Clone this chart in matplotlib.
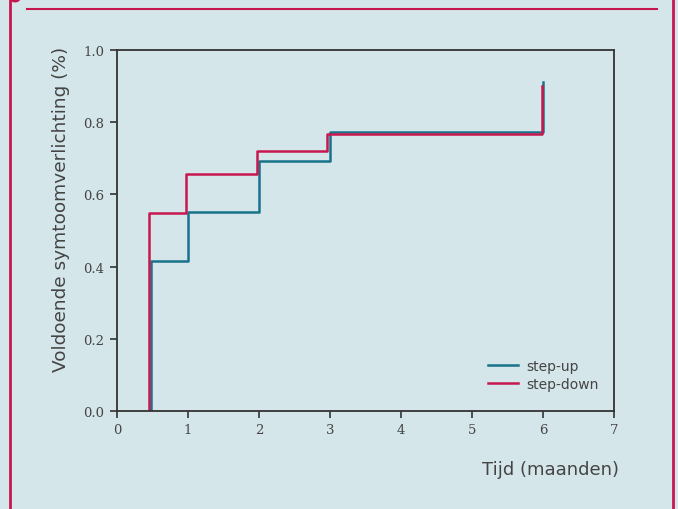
import numpy as np
import matplotlib
matplotlib.use('Agg')
import matplotlib.pyplot as plt
from matplotlib.lines import Line2D
from matplotlib.patches import Circle

# step-up / step-down curves (time in months, fraction with relief)
up_t = [0.475, 0.475, 0.995, 1.995, 3.0, 5.995]
up_y = [0.0, 0.416, 0.552, 0.6925, 0.773, 0.91]
down_t = [0.45, 0.45, 0.967, 1.967, 2.96, 5.98]
down_y = [0.0, 0.548, 0.656, 0.72, 0.766, 0.899]

x_ticks = [0, 1, 2, 3, 4, 5, 6, 7]
y_ticks = [0.0, 0.2, 0.4, 0.6, 0.8, 1.0]

bg = '#d5e6eb'
teal = '#17738a'
red = '#c8164f'
dark = '#333333'
txt = '#444444'

fig = plt.figure(figsize=(6.78, 5.10), dpi=100)
fig.patch.set_facecolor(bg)

# frame lines round the figure
W, H = 678, 510
fig.add_artist(Line2D([10 / W, 10 / W], [0, 1], color=red, lw=2, transform=fig.transFigure))
fig.add_artist(Line2D([673 / W, 673 / W], [0, 1], color=red, lw=2, transform=fig.transFigure))
fig.add_artist(Line2D([27 / W, 657 / W], [1 - 10 / H, 1 - 10 / H], color=red, lw=1.5,
                      transform=fig.transFigure))
fig.add_artist(Circle((15 / W, 1 + 1 / H), 5 / W, color=red, transform=fig.transFigure,
                      clip_on=True))

ax = fig.add_axes([117 / W, 1 - 412 / H, 497 / W, 361 / H])
ax.set_facecolor(bg)

ax.plot(up_t, up_y, drawstyle='steps-post', color=teal, lw=1.8, label='step-up')
ax.plot(down_t, down_y, drawstyle='steps-post', color=red, lw=1.8, label='step-down')

ax.set_xlim(0, 7)
ax.set_ylim(0, 1.0)
ax.set_xticks(x_ticks)
ax.set_yticks(y_ticks)
ax.set_xticklabels([str(v) for v in x_ticks], family='DejaVu Serif', fontsize=9.5, color=txt)
ax.set_yticklabels([f'{v:.1f}' for v in y_ticks], family='DejaVu Serif', fontsize=9.5, color=txt)
ax.tick_params(direction='out', length=5, width=1.2, color=dark, pad=4)
for s in ax.spines.values():
    s.set_color(dark)
    s.set_linewidth(1.3)

ax.set_ylabel('Voldoende symtoomverlichting (%)', fontsize=13.3, color=txt)
ax.yaxis.set_label_coords(-0.095, 0.56)
ax.set_xlabel('Tijd (maanden)', fontsize=13, color=txt)
ax.xaxis.set_label_coords(1.01, -0.135)
ax.xaxis.label.set_horizontalalignment('right')

leg = ax.legend(loc='lower right', bbox_to_anchor=(0.995, 0.02), frameon=False,
                fontsize=10, handlelength=2.2, handletextpad=0.6, labelspacing=0.3)
for t in leg.get_texts():
    t.set_color(txt)

fig.savefig('out.png', dpi=100, facecolor=bg)
